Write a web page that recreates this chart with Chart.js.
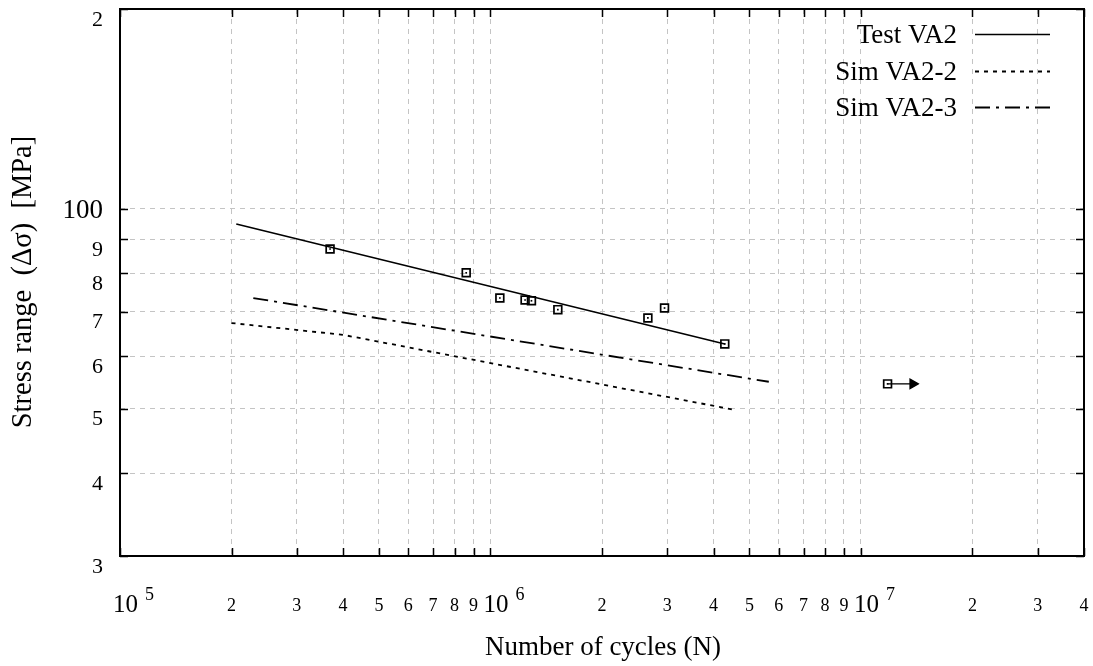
<!DOCTYPE html>
<html>
<head>
<meta charset="utf-8">
<script src="https://cdn.jsdelivr.net/npm/chart.js@4.4.0/dist/chart.umd.min.js"></script>
<style>
  html, body { margin: 0; padding: 0; background: #fff; }
  #wrap { width: 1093px; height: 666px; }
</style>
</head>
<body>
<div id="wrap"><canvas id="sn-chart"></canvas></div>
<script>
// test results: cycles to failure (N) and stress range (MPa)
const testN = [3.69e5, 8.6e5, 1.06e6, 1.24e6, 1.29e6, 1.52e6, 2.66e6, 2.95e6, 4.29e6];
const testS = [87.0, 80.1, 73.4, 72.9, 72.7, 70.5, 68.5, 70.9, 62.6];
// run-out specimen (arrow = no failure)
const runoutN = [1.18e7];
const runoutS = [54.5];
const runoutArrowN = [1.18e7, 1.38e7];

// curves
const testVA2N = [2.06e5, 4.29e6];
const testVA2S = [94.9, 62.6];
const simVA22N = [2.0e5, 4.0e5, 4.56e6];
const simVA22S = [67.3, 64.6, 49.8];
const simVA23N = [2.29e5, 5.64e6];
const simVA23S = [73.4, 54.9];

// axes
const xGrid = [1e5, 2e5, 3e5, 4e5, 5e5, 6e5, 7e5, 8e5, 9e5,
               1e6, 2e6, 3e6, 4e6, 5e6, 6e6, 7e6, 8e6, 9e6,
               1e7, 2e7, 3e7, 4e7];
const xTickLabels = ['10^5', '2', '3', '4', '5', '6', '7', '8', '9',
                     '10^6', '2', '3', '4', '5', '6', '7', '8', '9',
                     '10^7', '2', '3', '4'];
const yGrid = [30, 40, 50, 60, 70, 80, 90, 100, 200];
const yTickLabels = ['3', '4', '5', '6', '7', '8', '9', '100', '2'];

const SERIF = '"Liberation Serif", "DejaVu Serif", serif';

const pts = (xs, ys) => xs.map((v, i) => ({ x: v, y: ys[i] }));

const framePlugin = {
    id: 'frame',
    afterDraw(chart) {
        const { ctx, chartArea: a, scales: { x, y } } = chart;
        ctx.save();

        // inward tick marks on all four sides
        ctx.strokeStyle = '#000';
        ctx.lineWidth = 1.5;
        ctx.beginPath();
        xGrid.forEach(v => {
            const px = Math.round(x.getPixelForValue(v)) + 0.5;
            ctx.moveTo(px, a.bottom); ctx.lineTo(px, a.bottom - 8);
            ctx.moveTo(px, a.top); ctx.lineTo(px, a.top + 8);
        });
        yGrid.forEach(v => {
            const py = Math.round(y.getPixelForValue(v)) + 0.5;
            ctx.moveTo(a.left, py); ctx.lineTo(a.left + 8, py);
            ctx.moveTo(a.right, py); ctx.lineTo(a.right - 8, py);
        });
        ctx.stroke();

        ctx.lineWidth = 2;
        ctx.strokeRect(a.left, a.top, a.right - a.left, a.bottom - a.top);

        // tick labels
        ctx.fillStyle = '#000';
        ctx.textBaseline = 'middle';
        ctx.textAlign = 'right';
        yGrid.forEach((v, i) => {
            const py = y.getPixelForValue(v);
            const lbl = yTickLabels[i];
            if (lbl.length > 1) {
                ctx.font = '27px ' + SERIF;
                ctx.fillText(lbl, 103, py + 2);
            } else {
                ctx.font = '22px ' + SERIF;
                ctx.fillText(lbl, 103, py + 11);
            }
        });

        ctx.textBaseline = 'alphabetic';
        xGrid.forEach((v, i) => {
            const px = x.getPixelForValue(v);
            const lbl = xTickLabels[i];
            if (lbl.startsWith('10^')) {
                ctx.textAlign = 'left';
                ctx.font = '25px ' + SERIF;
                ctx.fillText('10', px - 7, 612);
                ctx.font = '18px ' + SERIF;
                ctx.fillText(lbl.slice(3), px + 25, 600);
            } else {
                ctx.textAlign = 'center';
                ctx.font = '18px ' + SERIF;
                ctx.fillText(lbl, px, 611);
            }
        });

        // axis titles
        ctx.font = '27px ' + SERIF;
        ctx.textAlign = 'center';
        ctx.fillText('Number of cycles (N)', 603, 655);

        ctx.save();
        ctx.translate(31, 282);
        ctx.rotate(-Math.PI / 2);
        ctx.font = '28.5px ' + SERIF;
        ctx.fillText('Stress range  (\u0394\u03c3)  [MPa]', 0, 0);
        ctx.restore();

        // legend (first three datasets)
        ctx.textAlign = 'right';
        ctx.textBaseline = 'middle';
        chart.data.datasets.slice(0, 3).forEach((ds, i) => {
            const ly = 34 + i * 36.5;
            ctx.font = '27px ' + SERIF;
            ctx.fillText(ds.label, 957, ly + 2);
            ctx.save();
            ctx.lineWidth = ds.borderWidth;
            ctx.setLineDash(ds.borderDash || []);
            ctx.beginPath();
            ctx.moveTo(975, Math.round(ly) + 0.5);
            ctx.lineTo(1050, Math.round(ly) + 0.5);
            ctx.stroke();
            ctx.restore();
        });

        ctx.restore();
    }
};

const gridValues = vals => scale => {
    scale.ticks = vals.map(v => ({ value: v }));
};

new Chart(document.getElementById('sn-chart'), {
    type: 'scatter',
    data: {
        datasets: [
            {
                label: 'Test VA2',
                data: pts(testVA2N, testVA2S),
                showLine: true,
                borderColor: '#000',
                borderWidth: 1.6,
                pointRadius: 0
            },
            {
                label: 'Sim VA2-2',
                data: pts(simVA22N, simVA22S),
                showLine: true,
                borderColor: '#000',
                borderWidth: 1.8,
                borderDash: [4, 5],
                pointRadius: 0
            },
            {
                label: 'Sim VA2-3',
                data: pts(simVA23N, simVA23S),
                showLine: true,
                borderColor: '#000',
                borderWidth: 1.8,
                borderDash: [15, 6, 3, 6],
                pointRadius: 0
            },
            {
                label: 'arrow',
                data: pts(runoutArrowN, [runoutS[0], runoutS[0]]),
                showLine: true,
                borderColor: '#000',
                borderWidth: 1.3,
                pointStyle: 'triangle',
                rotation: 90,
                pointRadius: [0, 5.5],
                backgroundColor: '#000'
            },
            {
                label: 'markers',
                data: pts(testN.concat(runoutN), testS.concat(runoutS)),
                pointStyle: 'rect',
                pointRadius: 5.5,
                borderWidth: 1.7,
                borderColor: '#000',
                backgroundColor: 'rgba(0,0,0,0)'
            },
            {
                label: 'marker dots',
                data: pts(testN.concat(runoutN), testS.concat(runoutS)),
                pointStyle: 'rect',
                pointRadius: 1.2,
                borderWidth: 0,
                backgroundColor: '#000'
            }
        ]
    },
    options: {
        responsive: true,
        maintainAspectRatio: false,
        devicePixelRatio: 1,
        animation: false,
        events: [],
        layout: { padding: { left: 120, top: 9, right: 9, bottom: 110 } },
        plugins: {
            legend: { display: false },
            tooltip: { enabled: false }
        },
        scales: {
            x: {
                type: 'logarithmic',
                min: 1e5,
                max: 4e7,
                afterBuildTicks: gridValues(xGrid),
                ticks: { display: false },
                grid: { color: '#c4c4c4', lineWidth: 1, drawTicks: false },
                border: { display: false, dash: [5, 5] }
            },
            y: {
                type: 'logarithmic',
                min: 30,
                max: 200,
                afterBuildTicks: gridValues(yGrid),
                ticks: { display: false },
                grid: { color: '#c4c4c4', lineWidth: 1, drawTicks: false },
                border: { display: false, dash: [5, 5] }
            }
        }
    },
    plugins: [framePlugin]
});
</script>
</body>
</html>
